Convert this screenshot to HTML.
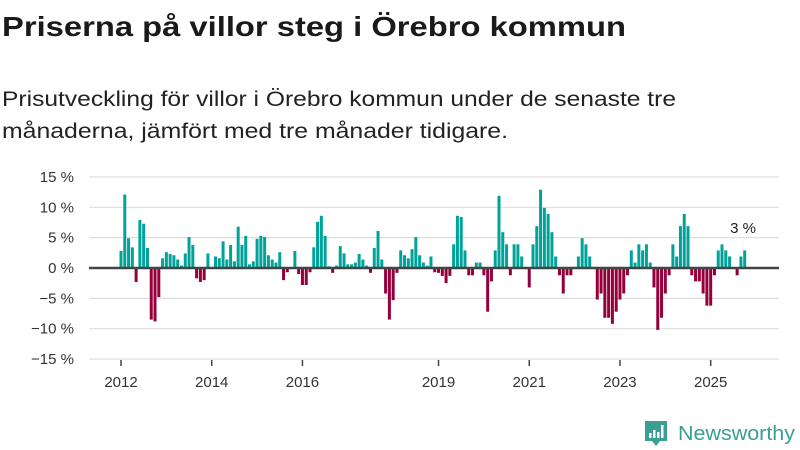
<!DOCTYPE html>
<html><head><meta charset="utf-8"><style>
html,body{margin:0;padding:0;background:#fff;}
svg{display:block;font-family:"Liberation Sans",sans-serif;}
</style></head><body>
<svg id="chart" width="800" height="450">
<text x="2" y="36" font-size="28" font-weight="bold" fill="#1a1a1a" textLength="624" lengthAdjust="spacingAndGlyphs">Priserna på villor steg i Örebro kommun</text>
<text x="2" y="106" font-size="21.5" fill="#222" textLength="674" lengthAdjust="spacingAndGlyphs">Prisutveckling för villor i Örebro kommun under de senaste tre</text>
<text x="2" y="138" font-size="21.5" fill="#222" textLength="506" lengthAdjust="spacingAndGlyphs">månaderna, jämfört med tre månader tidigare.</text>
<g id="grid"></g><g id="bars"></g><g id="xaxis"></g>
<text x="743" y="233" font-size="15" fill="#222" text-anchor="middle">3 %</text>
<g>
<path d="M645 421 h22 v20 h-7 l-4 5 l-4 -5 h-7 z" fill="#3a9e93"/>
<rect x="649" y="433" width="2.5" height="5" fill="#fff"/><rect x="653" y="430" width="2.5" height="8" fill="#fff"/><rect x="657" y="432" width="2.5" height="6" fill="#fff"/><rect x="661" y="425" width="2.5" height="13" fill="#fff"/>
<text x="678" y="440" font-size="20" fill="#3a9e93" textLength="117" lengthAdjust="spacingAndGlyphs">Newsworthy</text>
</g>
</svg>
<script>
const startYear = 2012;
const values = [2.8,12.1,4.9,3.4,-2.3,7.9,7.3,3.3,-8.5,-8.8,-4.8,1.6,2.6,2.3,2.1,1.4,0.4,2.4,5.1,3.8,-1.7,-2.3,-2.0,2.4,0,1.9,1.6,4.4,1.4,3.8,1.1,6.8,3.8,5.3,0.6,1.1,4.8,5.3,5.1,2.1,1.4,0.9,2.6,-2.0,-0.7,0,2.8,-1.0,-2.8,-2.8,-0.7,3.4,7.6,8.6,5.3,0.3,-0.8,0.4,3.6,
2.4,0.6,0.6,0.9,2.3,1.4,0.4,-0.8,3.3,6.1,1.4,-4.2,-8.5,-5.3,-0.8,2.9,2.1,1.6,3.1,5.1,2.1,0.9,0.4,1.9,-0.7,-0.8,-1.3,-2.5,-1.3,3.9,8.6,8.4,2.9,-1.2,-1.2,0.9,0.9,-1.2,-7.2,-2.2,2.9,11.9,5.9,3.9,-1.2,3.9,3.9,1.9,0,-3.2,3.9,6.9,12.9,9.9,8.9,5.9,1.9,-1.2,
-4.2,-1.2,-1.2,0,1.9,4.9,3.9,1.9,0,-5.2,-4.2,-8.2,-8.2,-9.2,-7.2,-5.2,-4.2,-1.2,2.9,0.9,3.9,2.9,3.9,0.9,-3.2,-10.2,-8.2,-4.2,-1.2,3.9,1.9,6.9,8.9,6.9,-1.2,-2.2,-2.2,-4.2,-6.2,-6.2,-1.2,2.9,3.9,2.9,1.9,0,-1.2,1.9,2.9];
const yTicks = [15,10,5,0,-5,-10,-15];
const yTickLabels = ["15 %","10 %","5 %","0 %","−5 %","−10 %","−15 %"];
const xTickYears = [2012,2014,2016,2019,2021,2023,2025];
const NS='http://www.w3.org/2000/svg';
const y = v => 268 - v*6.07;
const x = m => 121 + m*3.78; // months since Jan startYear
function mk(tag, attrs, parent){const e=document.createElementNS(NS,tag);for(const k in attrs)e.setAttribute(k,attrs[k]);parent.appendChild(e);return e;}
const grid=document.getElementById('grid');
yTicks.forEach((t,i)=>{
  if(t!==0){const l=mk('line',{x1:89,x2:779,y1:y(t),y2:y(t),stroke:'#dedede','stroke-width':1.2},grid);
  
  }
  const tx=mk('text',{x:74,y:y(t)+5,'font-size':15,fill:'#333','text-anchor':'end'},grid);
  tx.textContent=yTickLabels[i];
  
  
});
const bars=document.getElementById('bars');
values.forEach((v,i)=>{
  const r=mk('rect',{x:x(i)-1.5,width:3,y:Math.min(y(v),y(0)),height:Math.abs(y(v)-y(0)),fill:v>=0?'#00a39a':'#94003a'},bars);
  
  
});
const zl=mk('line',{x1:89,x2:779,y1:y(0),y2:y(0),stroke:'#444','stroke-width':2.5},bars);


const xa=document.getElementById('xaxis');
xTickYears.forEach(yr=>{
  const px=x((yr-startYear)*12);
  const tk=mk('line',{x1:px,x2:px,y1:360,y2:366,stroke:'#444','stroke-width':1.5},xa);
  
  
  const t=mk('text',{x:px,y:387,'font-size':15,fill:'#333','text-anchor':'middle'},xa);
  t.textContent=yr;
  
  
});
</script>
</body></html>
